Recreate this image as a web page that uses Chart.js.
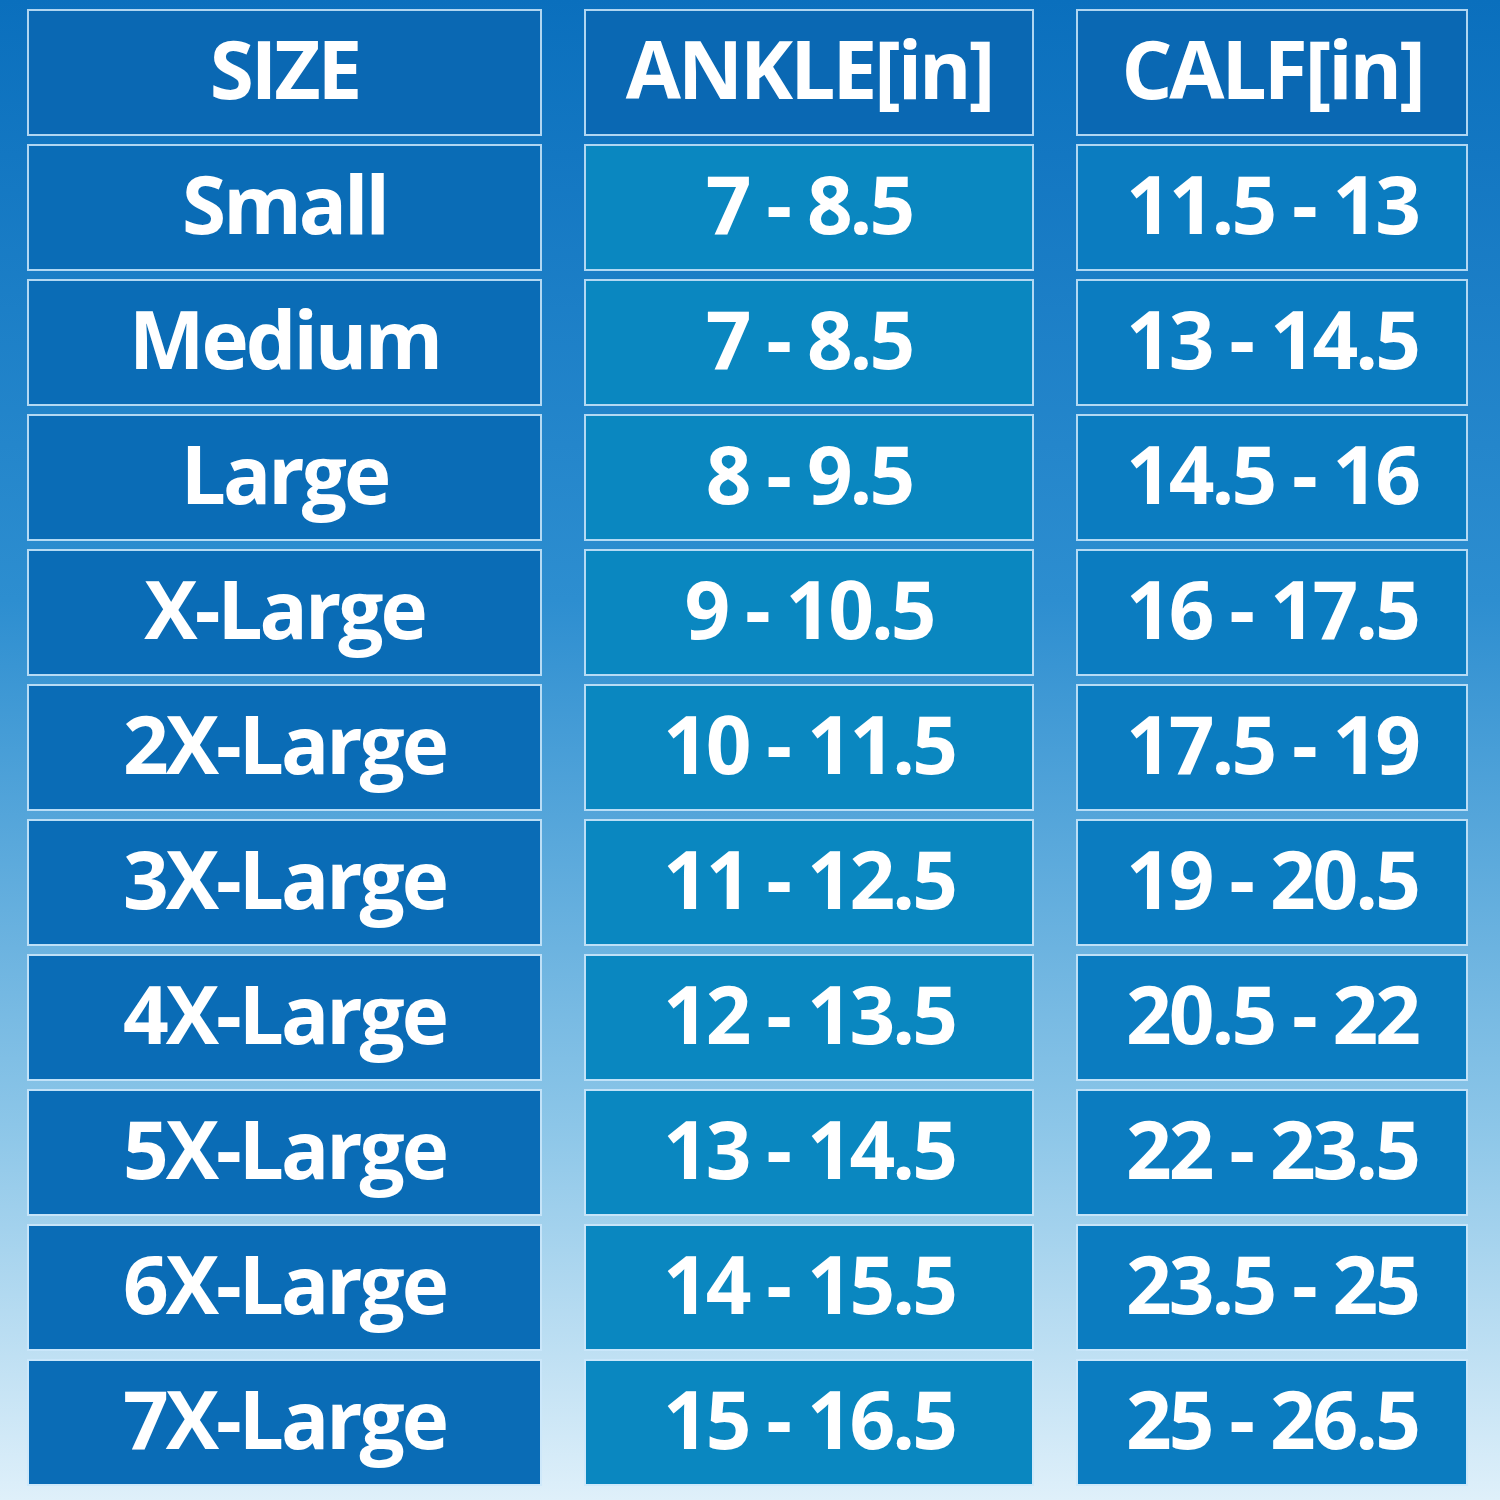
<!DOCTYPE html>
<html><head><meta charset="utf-8">
<script src="https://cdn.jsdelivr.net/npm/chart.js@4"></script>
<style>
html,body{margin:0;padding:0;width:1500px;height:1500px;background:linear-gradient(#0a6fbd 0%,#2d8ed0 40%,#8cc6e8 75%,#dff0fa 100%);}
#w{width:1500px;height:1500px;position:relative}
</style></head><body>
<div id="w"><canvas id="c" width="1500" height="1500"></canvas></div>
<script>
const rows = ["header","Small","Medium","Large","X-Large","2X-Large","3X-Large","4X-Large","5X-Large","6X-Large","7X-Large"];
const sizeText = ["SIZE","Small","Medium","Large","X-Large","2X-Large","3X-Large","4X-Large","5X-Large","6X-Large","7X-Large"];
const ankleText = ["ANKLE[in]","7 - 8.5","7 - 8.5","8 - 9.5","9 - 10.5","10 - 11.5","11 - 12.5","12 - 13.5","13 - 14.5","14 - 15.5","15 - 16.5"];
const calfText = ["CALF[in]","11.5 - 13","13 - 14.5","14.5 - 16","16 - 17.5","17.5 - 19","19 - 20.5","20.5 - 22","22 - 23.5","23.5 - 25","25 - 26.5"];
const sizeSpan = [27,542];
const ankleSpan = [584,1034];
const calfSpan = [1076,1468];
const texts = [sizeText, ankleText, calfText];

function colors(header, body){ return rows.map((r,i)=> i===0 ? header : body); }

const textPlugin = {
  id:'txt',
  afterDatasetsDraw(chart){
    const ctx = chart.ctx;
    ctx.save();
    ctx.fillStyle = '#ffffff';
    ctx.textAlign = 'center';
    ctx.textBaseline = 'middle';
    chart.data.datasets.forEach((ds,di)=>{
      const meta = chart.getDatasetMeta(di);
      meta.data.forEach((bar,i)=>{
        const cx = (bar.x + bar.base)/2;
        ctx.font = '700 80px "Open Sans"';
        try{ ctx.letterSpacing = '-3px'; }catch(e){}
        ctx.fillText(texts[di][i], cx, bar.y + 4);
      });
    });
    ctx.restore();
  }
};

new Chart(document.getElementById('c'), {
  type:'bar',
  data:{
    labels: rows,
    datasets:[
      {data: rows.map(()=>sizeSpan), backgroundColor: colors('#0a68b3','#0a6cb6')},
      {data: rows.map(()=>ankleSpan), backgroundColor: colors('#0a68b3','#0a87c0')},
      {data: rows.map(()=>calfSpan), backgroundColor: colors('#0a68b3','#0b7cc0')}
    ]
  },
  options:{
    indexAxis:'y',
    responsive:false,
    animation:false,
    layout:{padding:{top:5,bottom:10,left:0,right:0}},
    datasets:{bar:{grouped:false,barPercentage:0.94,categoryPercentage:1,borderColor:'rgba(205,232,250,0.85)',borderWidth:2,borderSkipped:false}},
    plugins:{legend:{display:false},tooltip:{enabled:false}},
    scales:{
      x:{type:'linear',min:0,max:1500,display:false},
      y:{type:'category',display:false,offset:true}
    }
  },
  plugins:[textPlugin]
});
</script>
</body></html>
